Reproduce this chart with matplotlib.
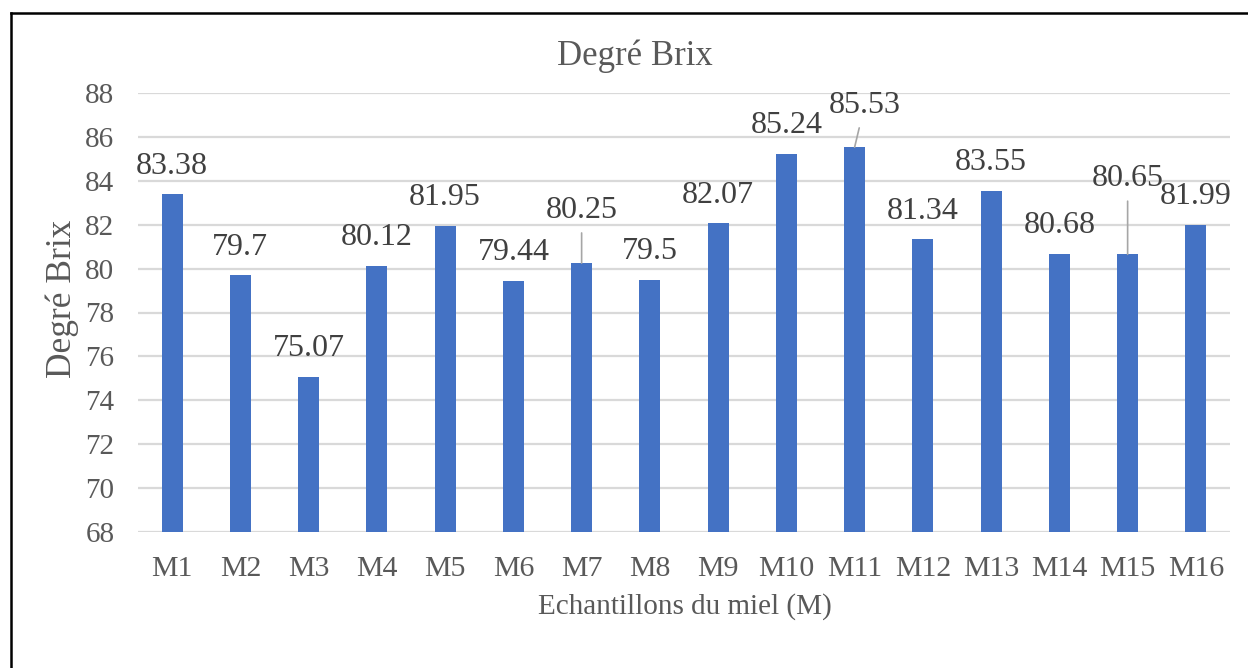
import matplotlib
matplotlib.use("Agg")
import matplotlib.pyplot as plt
from matplotlib.lines import Line2D

samples = ["M1", "M2", "M3", "M4", "M5", "M6", "M7", "M8",
           "M9", "M10", "M11", "M12", "M13", "M14", "M15", "M16"]
brix = [83.38, 79.7, 75.07, 80.12, 81.95, 79.44, 80.25, 79.5,
        82.07, 85.24, 85.53, 81.34, 83.55, 80.68, 80.65, 81.99]
y_ticks = [68, 70, 72, 74, 76, 78, 80, 82, 84, 86, 88]

# labels moved away from their bar, with a leader line (offsets in pixels)
moved = {"M7": (0, 53), "M11": (10, 42), "M15": (0, 76)}

TEXT = "#595959"
BAR = "#4472C4"
GRID = "#D9D9D9"

plt.rcParams["font.family"] = ["Liberation Serif", "DejaVu Serif"]

fig = plt.figure(figsize=(12.48, 6.68), dpi=100)
ax = fig.add_axes([138 / 1248, 1 - 532 / 668, (1230 - 138) / 1248, (532 - 93) / 668])

x = range(len(samples))
bars = ax.bar(x, brix, width=0.31, color=BAR, zorder=3)

ax.set_ylim(68, 88)
ax.set_xlim(-0.5, len(samples) - 0.5)
ax.set_yticks(y_ticks)
ax.set_xticks(list(x))
ax.set_xticklabels(samples)
ax.tick_params(axis="both", length=0, colors=TEXT)
ax.tick_params(axis="x", pad=17, labelsize=21.5)
ax.tick_params(axis="y", pad=17, labelsize=21)
ax.grid(axis="y", color=GRID, linewidth=1.6, zorder=0)
for s in ax.spines.values():
    s.set_visible(False)

for i, (name, v) in enumerate(zip(samples, brix)):
    label = f"{v:g}"
    if name in moved:
        dx, dy = moved[name]
        ax.annotate(label, xy=(i, v), xytext=(dx, dy), textcoords="offset pixels",
                    ha="center", va="center", fontsize=23, color="#404040",
                    arrowprops=dict(arrowstyle="-", color="#A6A6A6", lw=1.2,
                                    shrinkA=4, shrinkB=0))
    else:
        ax.annotate(label, xy=(i, v), xytext=(0, 28), textcoords="offset pixels",
                    ha="center", va="center", fontsize=23, color="#404040")

fig.text(635 / 1248, 1 - 56 / 668, "Degré Brix", ha="center", va="center",
         fontsize=25, color=TEXT)
fig.text(685 / 1248, 1 - 607 / 668, "Echantillons du miel (M)", ha="center",
         va="center", fontsize=21, color=TEXT)
fig.text(62 / 1248, 1 - 299 / 668, "Degré Brix", ha="center", va="center",
         rotation=90, fontsize=25.5, color=TEXT)

# frame lines along the top and left edges
fig.add_artist(Line2D([11 / 1248, 1.0], [1 - 13 / 668, 1 - 13 / 668],
                      color="black", linewidth=1.8, transform=fig.transFigure))
fig.add_artist(Line2D([11 / 1248, 11 / 1248], [0.0, 1 - 13 / 668],
                      color="black", linewidth=1.8, transform=fig.transFigure))

fig.savefig("out.png", dpi=100)
